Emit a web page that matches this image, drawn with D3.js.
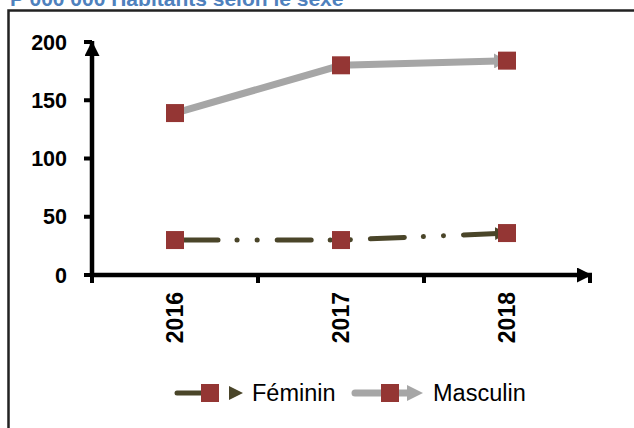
<!DOCTYPE html>
<html>
<head>
<meta charset="utf-8">
<script src="https://cdn.jsdelivr.net/npm/d3@7"></script>
<style>
  html, body { margin: 0; padding: 0; background: #fff; }
  svg { display: block; }
</style>
</head>
<body>
<div id="chart"></div>
<script>
// chart data
const years = ['2016', '2017', '2018'];
const feminin = [30, 30, 36];
const masculin = [139, 180, 184];
const yTicks = [0, 50, 100, 150, 200];
const seriesNames = ['Féminin', 'Masculin'];
const titleText = 'P 000 000 Habitants selon le sexe';

const width = 634;
const height = 428;
const font = '"Liberation Sans", Arial, sans-serif';

const svg = d3.select('#chart').append('svg')
  .attr('width', width)
  .attr('height', height);

const defs = svg.append('defs');
function arrowDef(id, color, w, h) {
  defs.append('marker')
    .attr('id', id)
    .attr('viewBox', `0 0 ${w} ${h}`)
    .attr('refX', w).attr('refY', h / 2)
    .attr('markerUnits', 'userSpaceOnUse')
    .attr('markerWidth', w).attr('markerHeight', h)
    .attr('orient', 'auto')
    .append('path')
    .attr('d', `M0,0L${w},${h / 2}L0,${h}Z`)
    .attr('fill', color);
}
arrowDef('arr-fem', '#4a4529', 12, 13);
arrowDef('arr-mas', '#a6a6a6', 13, 15);
arrowDef('arr-axis', '#000', 15, 15);

// title (cut at the top) and frame
svg.append('text')
  .attr('x', 10).attr('y', 6)
  .attr('font-family', font).attr('font-weight', 700).attr('font-size', 21)
  .attr('fill', '#4f81bd')
  .text(titleText);

svg.append('path')
  .attr('d', `M8.5,${height}V10.5H${width}`)
  .attr('fill', 'none').attr('stroke', '#222').attr('stroke-width', 2.5);

const x = d3.scaleBand().domain(years).range([92, 590]);
const y = d3.scaleLinear().domain([0, 200]).range([275, 42]);
const cx = (d) => x(d) + x.bandwidth() / 2;

// axes
const axes = svg.append('g');
axes.append('line')
  .attr('x1', 92).attr('x2', 92).attr('y1', y(0) + 2).attr('y2', y(200) - 1)
  .attr('stroke', '#000').attr('stroke-width', 4.5)
  .attr('marker-end', 'url(#arr-axis)');
axes.append('line')
  .attr('x1', 90).attr('x2', 592).attr('y1', y(0)).attr('y2', y(0))
  .attr('stroke', '#000').attr('stroke-width', 4.5)
  .attr('marker-end', 'url(#arr-axis)');

axes.selectAll('.ytick').data(yTicks).join('line')
  .attr('x1', 84).attr('x2', 92)
  .attr('y1', (d) => y(d)).attr('y2', (d) => y(d))
  .attr('stroke', '#000').attr('stroke-width', 4);

axes.selectAll('.ylab').data(yTicks).join('text')
  .attr('x', 67).attr('y', (d) => y(d) + 7.5)
  .attr('text-anchor', 'end')
  .attr('font-family', font).attr('font-weight', 700).attr('font-size', 21.5)
  .text((d) => d);

const xTickPos = years.map((d) => x(d)).concat([x.range()[1]]);
axes.selectAll('.xtick').data(xTickPos).join('line')
  .attr('x1', (d) => d).attr('x2', (d) => d)
  .attr('y1', y(0)).attr('y2', y(0) + 8)
  .attr('stroke', '#000').attr('stroke-width', 4);

axes.selectAll('.xlab').data(years).join('text')
  .attr('transform', (d) => `translate(${cx(d) + 8},292) rotate(-90)`)
  .attr('text-anchor', 'end')
  .attr('font-family', font).attr('font-weight', 700).attr('font-size', 23)
  .text((d) => d);

// series lines
const line = d3.line().x((d, i) => cx(years[i])).y((d) => y(d));

svg.append('path')
  .datum(masculin)
  .attr('d', line)
  .attr('fill', 'none').attr('stroke', '#a6a6a6').attr('stroke-width', 7)
  .attr('marker-end', 'url(#arr-mas)');

svg.append('path')
  .datum(feminin)
  .attr('d', line)
  .attr('fill', 'none').attr('stroke', '#4a4529').attr('stroke-width', 5)
  .attr('stroke-linecap', 'round')
  .attr('stroke-dasharray', '34 19 0.1 20 0.1 20')
  .attr('stroke-dashoffset', -9)
  .attr('marker-end', 'url(#arr-fem)');

// markers
const sq = 18;
[feminin, masculin].forEach((vals) => {
  svg.append('g').selectAll('rect').data(vals).join('rect')
    .attr('x', (d, i) => cx(years[i]) - sq / 2)
    .attr('y', (d) => y(d) - sq / 2)
    .attr('width', sq).attr('height', sq)
    .attr('fill', '#943634');
});

// legend
const leg = svg.append('g');
const ly = 393;
// Féminin
leg.append('line')
  .attr('x1', 177).attr('x2', 205).attr('y1', ly).attr('y2', ly)
  .attr('stroke', '#4a4529').attr('stroke-width', 5).attr('stroke-linecap', 'round');
leg.append('rect').attr('x', 201).attr('y', ly - 9).attr('width', sq).attr('height', sq).attr('fill', '#943634');
leg.append('path').attr('d', `M229,${ly - 7}L243,${ly}L229,${ly + 7}Z`).attr('fill', '#4a4529');
leg.append('text').attr('x', 252).attr('y', ly + 8)
  .attr('font-family', font).attr('font-size', 23.5).text(seriesNames[0]);
// Masculin
leg.append('line')
  .attr('x1', 355).attr('x2', 410).attr('y1', ly).attr('y2', ly)
  .attr('stroke', '#a6a6a6').attr('stroke-width', 7).attr('stroke-linecap', 'round');
leg.append('path').attr('d', `M407,${ly - 8}L423,${ly}L407,${ly + 8}Z`).attr('fill', '#a6a6a6');
leg.append('rect').attr('x', 381).attr('y', ly - 9).attr('width', sq).attr('height', sq).attr('fill', '#943634');
leg.append('text').attr('x', 433).attr('y', ly + 8)
  .attr('font-family', font).attr('font-size', 23.5).text(seriesNames[1]);
</script>
</body>
</html>
